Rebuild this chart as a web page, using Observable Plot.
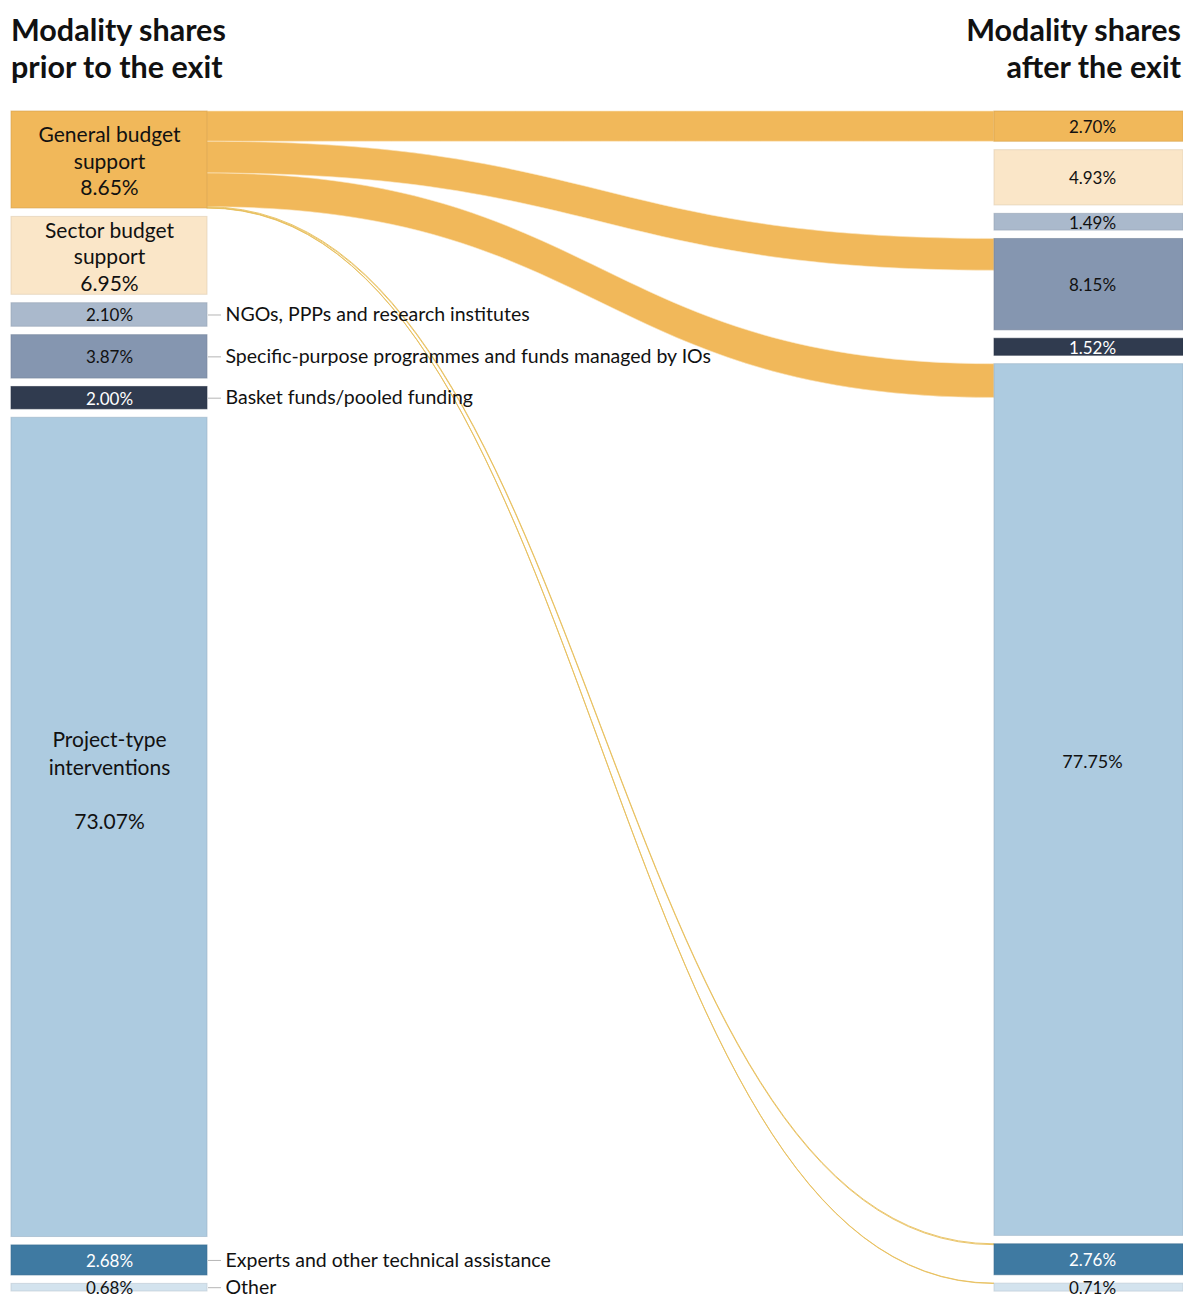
<!DOCTYPE html>
<html><head><meta charset="utf-8">
<script src="https://cdn.jsdelivr.net/npm/d3@7"></script>
<script src="https://cdn.jsdelivr.net/npm/@observablehq/plot@0.6"></script>
<style>
body{margin:0;background:#fff;font-family:Lato,"Open Sans",sans-serif;}
#wrap{width:1183px;overflow:hidden;}
header{display:flex;justify-content:space-between;height:100px;box-sizing:border-box;padding:11px 2px 0 11px;}
h1{margin:0;font-size:30.5px;line-height:37px;font-weight:700;color:#111;}
h1.right{text-align:right;}
</style></head><body>
<div id="wrap">
<header><h1>Modality shares<br>prior to the exit</h1><h1 class="right">Modality shares<br>after the exit</h1></header>
<div id="chart"></div>
</div>
<script>
// ---- data ----
const categories = [
  "General budget support",
  "Sector budget support",
  "NGOs, PPPs and research institutes",
  "Specific-purpose programmes and funds managed by IOs",
  "Basket funds/pooled funding",
  "Project-type interventions",
  "Experts and other technical assistance",
  "Other"
];
const sharesBefore = [8.65, 6.95, 2.10, 3.87, 2.00, 73.07, 2.68, 0.68];
const sharesAfter  = [2.70, 4.93, 1.49, 8.15, 1.52, 77.75, 2.76, 0.71];
const blockNames = ["General budget\nsupport", "Sector budget\nsupport", null, null, null, "Project-type\ninterventions", null, null];
const sideLabels = [null, null, "NGOs, PPPs and research institutes", "Specific-purpose programmes and funds managed by IOs", "Basket funds/pooled funding", null, "Experts and other technical assistance", "Other"];
const colors = ["#f1b85a", "#fae6c8", "#aab9cc", "#8596b0", "#303b4f", "#adcbe0", "#3f7aa2", "#d3e3ee"];
const textColors = ["#111", "#111", "#111", "#111", "#fff", "#111", "#fff", "#111"];
// flows out of "General budget support" (prior) into the modalities after the exit
const flowSource = "General budget support";
const flowTargets = ["General budget support", "Specific-purpose programmes and funds managed by IOs", "Project-type interventions", "Experts and other technical assistance", "Other"];
const flowValues = [2.70, 2.83, 3.01, 0.08, 0.03];

// ---- layout ----
const gap = 0.75;
const total = 100 + gap * (categories.length - 1);
const leftCol = {x1: 11 / 1183, x2: 207 / 1183};
const rightCol = {x1: 994 / 1183, x2: 1, center: 1092 / 1183};
const fmt = v => d3.format(".2f")(v) + "%";

function stack(values, col, side) {
  let y = 0;
  return values.map((v, i) => {
    const d = {side, cat: categories[i], i, value: v, y1: y, y2: y + v, x1: col.x1, x2: col.x2,
      cx: col.center ?? (col.x1 + col.x2) / 2, color: colors[i], textColor: textColors[i]};
    y += v + gap;
    return d;
  });
}
const before = stack(sharesBefore, leftCol, "before");
const after = stack(sharesAfter, rightCol, "after");
const blocks = [...before, ...after];

// flow bands
const src = before[categories.indexOf(flowSource)];
let off = src.y1;
const flowPts = [];
flowTargets.forEach((t, k) => {
  const v = flowValues[k];
  const tgt = after[categories.indexOf(t)];
  flowPts.push({id: k, x: leftCol.x2, y1: off, y2: off + v, thin: v < 0.5});
  flowPts.push({id: k, x: rightCol.x1, y1: tgt.y1, y2: tgt.y1 + v, thin: v < 0.5});
  off += v;
});
const flowColor = "#f1b85a";

const smallBefore = before.filter(d => blockNames[d.i] == null);
const sideData = before.filter(d => sideLabels[d.i] != null);
const mid = d => (d.y1 + d.y2) / 2;

const chart = Plot.plot({
  width: 1183, height: 1198,
  marginTop: 11, marginBottom: 7, marginLeft: 0, marginRight: 0,
  x: {domain: [0, 1], axis: null},
  y: {domain: [0, total], reverse: true, axis: null},
  style: {fontFamily: "Lato, 'Open Sans', sans-serif", background: "white", overflow: "hidden"},
  marks: [
    Plot.area(flowPts.filter(d => !d.thin), {x1: "x", y1: "y1", y2: "y2", z: "id", curve: "bump-x", fill: flowColor, stroke: "#fbe7c4", strokeWidth: 0.6}),
    Plot.area(flowPts.filter(d => d.thin), {x1: "x", y1: "y1", y2: "y2", z: "id", curve: "bump-x", fill: "none", stroke: "#e8bf5e", strokeWidth: 0.9}),
    Plot.rect(blocks, {x1: "x1", x2: "x2", y1: "y1", y2: "y2", fill: "color", stroke: d => d3.color(d.color).darker(0.35).formatHex(), strokeWidth: 1, strokeOpacity: 0.6}),
    // names + values inside top big blocks (GBS, SBS)
    Plot.text(before.filter(d => d.i < 2), {x: "cx", y: mid, text: d => blockNames[d.i] + "\n" + fmt(d.value), fill: "textColor", fontSize: 21, lineHeight: 1.28, lineAnchor: "middle", dy: 0}),
    // project-type block
    Plot.text(before.filter(d => d.i === 5), {x: "cx", y: mid, text: d => blockNames[d.i] + "\n\n" + fmt(d.value), fill: "textColor", fontSize: 21, lineHeight: 1.29, lineAnchor: "middle", dy: -48}),
    // small blocks values (left)
    Plot.text(smallBefore, {x: "cx", y: mid, text: d => fmt(d.value), fill: "textColor", fontSize: 17, lineAnchor: "middle", dy: 1}),
    // right values
    Plot.text(after.filter(d => d.i !== 5), {x: "cx", y: mid, text: d => fmt(d.value), fill: "textColor", fontSize: 17, lineAnchor: "middle", dy: 1}),
    Plot.text(after.filter(d => d.i === 5), {x: "cx", y: mid, text: d => fmt(d.value), fill: "textColor", fontSize: 18, lineAnchor: "middle", dy: -38}),
    // side labels with ticks
    Plot.ruleY(sideData, {y: mid, x1: leftCol.x2 + 1 / 1183, x2: leftCol.x2 + 14 / 1183, stroke: "#b5b5b5", strokeWidth: 1}),
    Plot.text(sideData, {x: leftCol.x2 + 18 / 1183, y: mid, text: d => sideLabels[d.i], textAnchor: "start", fill: "#111", fontSize: 19.5, lineAnchor: "middle", dy: 0})
  ]
});
document.getElementById("chart").appendChild(chart);
</script>
</body></html>
